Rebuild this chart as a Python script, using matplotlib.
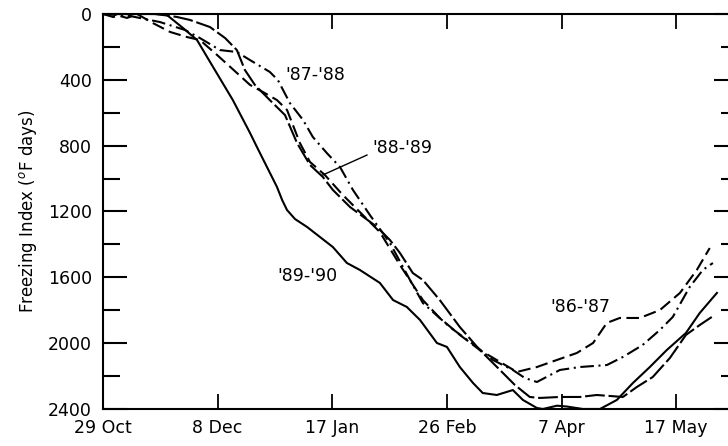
import numpy as np
import matplotlib.pyplot as plt
from matplotlib.ticker import MultipleLocator

# days counted from 29 Oct, freezing index in degF days
tick_days = [0, 40, 80, 120, 160, 200]
tick_labels = ['29 Oct', '8 Dec', '17 Jan', '26 Feb', '7 Apr', '17 May']

d8687 = [0, 3.5, 5.9, 8.4, 11.9, 17.4, 23.4, 29.3, 33.8, 39.8, 46.7, 51.3, 55.8, 60.7,
         64.2, 68.7, 72.2, 77.4, 83.7, 89.6, 96.6, 103.6, 111.6, 117.5, 124.5, 131.5,
         138.5, 144.4, 151.4, 158.4, 165.3, 171.0, 175.8, 180.3, 187.3, 194.3, 201.3,
         207.2, 211.7]
f8687 = [0, 18, 12, 24, 0, 55, 109, 140, 158, 249, 358, 431, 474, 523,
         583, 784, 899, 978, 1100, 1203, 1325, 1525, 1738, 1847, 1950, 2042,
         2114, 2175, 2145, 2102, 2060, 1999, 1877, 1847, 1847, 1799, 1695,
         1555, 1422]

d8788 = [0, 9.4, 19.9, 28.6, 33.8, 40.8, 46.7, 51.3, 58.2, 61.0, 65.2, 69.8, 73.2,
         78.1, 82.7, 87.2, 93.1, 100.1, 107.1, 111.6, 121.0, 130.4, 136.0, 143.0,
         147.2, 151.4, 159.4, 166.4, 175.8, 181.4, 188.3, 194.3, 198.8, 204.7,
         209.3, 212.8]
f8788 = [0, 12, 49, 97, 146, 219, 231, 280, 352, 401, 541, 644, 747,
         845, 930, 1069, 1221, 1391, 1616, 1756, 1902, 2023, 2102, 2163,
         2212, 2236, 2163, 2145, 2133, 2084, 2011, 1920, 1841, 1659,
         1555, 1513]

d8889 = [0, 18.0, 20.9, 25.8, 30.3, 37.3, 42.6, 46.7, 49.5, 53.0, 58.2, 63.5, 67.7,
         72.2, 76.7, 80.2, 86.2, 95.6, 100.1, 103.6, 108.1, 111.6, 117.5, 124.5,
         131.5, 138.5, 143.7, 148.9, 152.4, 159.4, 166.4, 172.3, 181.4, 186.3,
         191.8, 197.8, 203.4, 208.2, 212.4]
f8889 = [0, 0, 6, 18, 36, 79, 146, 219, 340, 431, 523, 614, 784,
         917, 990, 1069, 1173, 1294, 1373, 1452, 1574, 1616, 1738, 1902,
         2042, 2163, 2254, 2327, 2333, 2327, 2327, 2315, 2327, 2266,
         2206, 2090, 1950, 1890, 1841]

d8990 = [0, 19.0, 22.3, 27.9, 32.8, 38.4, 45.3, 51.3, 53.7, 60.7, 62.5, 64.2, 67.0,
         71.2, 80.2, 85.1, 89.6, 96.6, 101.2, 106.0, 110.6, 116.5, 120.0, 124.5,
         129.1, 132.5, 137.4, 143.0, 146.5, 151.4, 153.5, 158.4, 161.8, 167.4,
         173.4, 179.3, 184.9, 190.8, 196.7, 203.4, 208.2, 214.2]
f8990 = [0, 0, 6, 85, 158, 322, 523, 723, 808, 1051, 1130, 1191, 1246,
         1294, 1416, 1513, 1555, 1634, 1738, 1780, 1859, 1999, 2023, 2145,
         2242, 2303, 2315, 2285, 2345, 2394, 2400, 2380, 2385, 2400,
         2400, 2345, 2242, 2145, 2042, 1938, 1817, 1695]

plt.rcParams['font.family'] = 'DejaVu Sans'

fig = plt.figure(figsize=(7.28, 4.46), dpi=100)
ax = fig.add_axes([0.1415, 0.083, 0.872, 0.8856])

lw = 1.5
ax.plot(d8687, f8687, color='k', lw=lw, dashes=(6, 2.6))
ax.plot(d8788, f8788, color='k', lw=lw, dashes=(6.5, 2.2, 1, 2.2))
ax.plot(d8889, f8889, color='k', lw=lw, dashes=(9.5, 1.8))
ax.plot(d8990, f8990, color='k', lw=lw)

ax.set_xlim(0, 221.5)
ax.set_ylim(2400, 0)

ax.set_xticks(tick_days)
ax.set_xticklabels(tick_labels)
ax.yaxis.set_major_locator(MultipleLocator(400))
ax.yaxis.set_minor_locator(MultipleLocator(200))

ax.tick_params(axis='x', which='major', direction='in', length=11, width=1.3,
               top=True, bottom=True, labelsize=12.5, pad=7)
ax.tick_params(axis='y', which='major', direction='in', length=17, width=1.5,
               left=True, right=True, labelsize=12.5, pad=8)
ax.tick_params(axis='y', which='minor', direction='in', length=12, width=1.5,
               left=True, right=True)
for s in ax.spines.values():
    s.set_linewidth(1.5)

ax.set_ylabel('Freezing Index ($^{o}$F days)', fontsize=12, labelpad=6)

ax.text(74, 371, "'87-'88", fontsize=12.5, ha='center', va='center')
ax.text(104.6, 814, "'88-'89", fontsize=12.5, ha='center', va='center')
ax.text(71.2, 1592, "'89-'90", fontsize=12.5, ha='center', va='center')
ax.text(166.4, 1780, "'86-'87", fontsize=12.5, ha='center', va='center')
ax.plot([76.7, 92.1], [978, 857], color='k', lw=1)

fig.savefig('out.png', dpi=100)
